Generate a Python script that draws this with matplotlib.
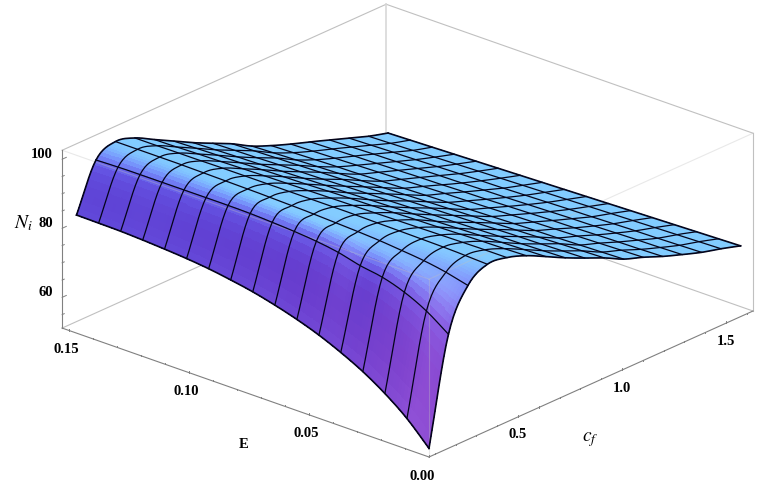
import numpy as np
import matplotlib
matplotlib.use('Agg')
import matplotlib.pyplot as plt
from mpl_toolkits.mplot3d import proj3d

# mesh positions
E_vals = [0.0, 0.0092, 0.0184, 0.0276, 0.0368, 0.0459, 0.0551, 0.0643, 0.0735,
          0.0827, 0.0919, 0.1011, 0.1103, 0.1194, 0.1286, 0.1378, 0.147]
cf_vals = [0.072, 0.1656, 0.2593, 0.3529, 0.4465, 0.5401, 0.6338, 0.7274, 0.821,
           0.9146, 1.0083, 1.1019, 1.1955, 1.2891, 1.3828, 1.4764, 1.57]

# N_i, one row per cf value, columns follow E_vals
Ni = [
    [53.6, 60.0, 65.0, 69.1, 72.4, 75.2, 77.5, 79.4, 81.0, 82.2, 83.2, 83.9, 84.4, 84.8, 85.1, 85.2, 85.3],
    [84.1, 88.6, 91.8, 93.9, 95.0, 96.6, 97.6, 98.2, 98.6, 98.9, 99.0, 99.0, 99.0, 99.0, 99.0, 98.9, 98.7],
    [95.7, 97.3, 98.4, 99.1, 99.7, 100.1, 100.4, 100.7, 100.9, 101.1, 101.2, 101.3, 101.4, 101.5, 101.5, 101.5, 101.5],
    [99.3, 99.6, 99.8, 99.9, 100.0, 100.1, 100.2, 100.2, 100.2, 100.2, 100.2, 100.2, 100.2, 100.1, 100.1, 100.0, 100.0],
    [98.7, 98.7, 98.6, 98.5, 98.4, 98.3, 98.2, 98.1, 98.0, 97.9, 97.8, 97.7, 97.5, 97.4, 97.3, 97.1, 97.0],
    [96.7, 96.5, 96.4, 96.2, 96.0, 95.9, 95.7, 95.5, 95.4, 95.2, 95.0, 94.9, 94.7, 94.5, 94.4, 94.2, 94.0],
    [93.9, 93.7, 93.5, 93.3, 93.1, 92.9, 92.8, 92.6, 92.4, 92.2, 92.1, 91.9, 91.7, 91.5, 91.4, 91.2, 91.0],
    [91.0, 90.8, 90.6, 90.5, 90.3, 90.1, 90.0, 89.8, 89.6, 89.5, 89.3, 89.1, 89.0, 88.8, 88.6, 88.5, 88.3],
    [88.4, 88.2, 88.0, 87.9, 87.7, 87.5, 87.3, 87.2, 87.0, 86.8, 86.6, 86.5, 86.3, 86.1, 86.0, 85.8, 85.6],
    [85.9, 85.7, 85.5, 85.2, 85.0, 84.8, 84.6, 84.4, 84.2, 84.0, 83.8, 83.6, 83.4, 83.2, 82.9, 82.7, 82.4],
    [83.0, 82.8, 82.6, 82.4, 82.3, 82.1, 81.9, 81.7, 81.5, 81.3, 81.1, 80.9, 80.7, 80.6, 80.4, 80.2, 80.0],
    [81.0, 80.8, 80.6, 80.4, 80.2, 80.0, 79.8, 79.6, 79.4, 79.3, 79.1, 78.9, 78.7, 78.5, 78.3, 78.1, 77.9],
    [78.7, 78.5, 78.4, 78.2, 78.0, 77.9, 77.7, 77.5, 77.3, 77.2, 77.0, 76.9, 76.7, 76.5, 76.4, 76.2, 76.0],
    [76.7, 76.5, 76.4, 76.2, 76.0, 75.9, 75.7, 75.5, 75.3, 75.2, 75.0, 74.9, 74.7, 74.5, 74.4, 74.2, 74.0],
    [74.8, 74.6, 74.4, 74.3, 74.1, 73.9, 73.8, 73.6, 73.4, 73.2, 73.1, 72.9, 72.7, 72.5, 72.4, 72.2, 72.0],
    [73.3, 73.1, 72.9, 72.7, 72.5, 72.3, 72.1, 71.9, 71.7, 71.5, 71.3, 71.1, 70.9, 70.7, 70.4, 70.2, 70.0],
    [71.6, 71.4, 71.2, 71.0, 70.8, 70.6, 70.4, 70.2, 70.0, 69.8, 69.6, 69.4, 69.2, 69.0, 68.8, 68.6, 68.4],
]

E_ticks = [0.0, 0.05, 0.10, 0.15]
E_labels = ['0.00', '0.05', '0.10', '0.15']
cf_ticks = [0.5, 1.0, 1.5]
cf_labels = ['0.5', '1.0', '1.5']
z_ticks = [60, 80, 100]
z_labels = ['60', '80', '100']

cf_lo, cf_hi = 0.072, 1.63
E_lo, E_hi = 0.0, 0.153
z_lo, z_hi = 51.1, 102.6

W, H = 757, 482
plt.rcParams['mathtext.fontset'] = 'stix'
fig = plt.figure(figsize=(W / 100, H / 100), dpi=100)
ax = fig.add_axes([0, 0, 1, 1], projection='3d', proj_type='ortho', computed_zorder=False)
ax.view_init(elev=23.45, azim=221.45)
ax.set_box_aspect((1, 1, 0.396))
ax.set_xlim(cf_lo, cf_hi)
ax.set_ylim(E_lo, E_hi)
ax.set_zlim(z_lo, z_hi)
ax.set_axis_off()
ax.patch.set_alpha(0)


def project(x, y, z):
    px, py, _ = proj3d.proj_transform(x, y, z, ax.get_proj())
    return px, py


# place the axes so that the box corners land where they are in the picture
front = project(cf_lo, E_lo, z_lo)
right = project(cf_hi, E_lo, z_lo)
fig.canvas.draw()
a = ax.transData.transform(front)
b = ax.transData.transform(right)
scale = (753 - 429) / (b[0] - a[0])
ax.set_position([0, 0, scale, scale])
fig.canvas.draw()
a = ax.transData.transform(front)
ax.set_position([(429 - a[0]) / W, ((H - 457) - a[1]) / H, scale, scale])


def smooth(vals, n):
    # Catmull-Rom through the read values, so the surface is drawn round like the original
    vals = np.asarray(vals, dtype=float)
    m = np.gradient(vals)
    out = []
    for k in range(len(vals) - 1):
        s = np.arange(n) / n
        h00 = 2 * s**3 - 3 * s**2 + 1
        h10 = s**3 - 2 * s**2 + s
        h01 = -2 * s**3 + 3 * s**2
        h11 = s**3 - s**2
        out.append(h00 * vals[k] + h10 * m[k] + h01 * vals[k + 1] + h11 * m[k + 1])
    out.append(vals[-1:])
    return np.concatenate(out)


n = 8
cf = np.array(cf_vals)
E = np.array(E_vals)
Z = np.array(Ni)
tmp = np.array([smooth(col, n) for col in Z.T]).T
Zf = np.array([smooth(row, n) for row in tmp])
cf_f = np.interp(np.linspace(0, 16, 16 * n + 1), np.arange(17), cf)
E_f = np.interp(np.linspace(0, 16, 16 * n + 1), np.arange(17), E)
CF, EE = np.meshgrid(cf_f, E_f, indexing='ij')

# colour from the slope: flat parts light blue, steep parts purple
gc = np.gradient(Zf, axis=0) * n
ge = np.clip(np.gradient(Zf, axis=1) * n, 0, 6)
t = np.clip(gc / (18 + 3 * ge), 0, 1)
stops_t = [0, 0.08, 0.3, 0.6, 1]
stops_r = [130, 127, 118, 100, 92]
stops_g = [204, 190, 145, 85, 58]
stops_b = [255, 255, 252, 228, 206]
R = np.interp(t, stops_t, stops_r) + 8 * ge
G = np.interp(t, stops_t, stops_g) + 2 * ge
B = np.interp(t, stops_t, stops_b)
RGB = np.clip(np.dstack([R, G, B]) / 255, 0, 1)
cols = (RGB[:-1, :-1] + RGB[1:, 1:] + RGB[:-1, 1:] + RGB[1:, :-1]) / 4

gray = '#c0c0c0'


def edge(p, q, color=gray, lw=0.8, zorder=1, alpha=1):
    ax.plot([p[0], q[0]], [p[1], q[1]], [p[2], q[2]], color=color, lw=lw, zorder=zorder,
            alpha=alpha, clip_on=False)


# box edges behind the surface
edge((cf_lo, E_hi, z_hi), (cf_hi, E_hi, z_hi))
edge((cf_hi, E_lo, z_hi), (cf_hi, E_hi, z_hi))
edge((cf_hi, E_hi, z_lo), (cf_hi, E_hi, z_hi), color='#d8d8d8', lw=1.2)
edge((cf_lo, E_hi, z_lo), (cf_hi, E_hi, z_lo))
edge((cf_hi, E_lo, z_lo), (cf_hi, E_hi, z_lo))
edge((cf_hi, E_lo, z_lo), (cf_hi, E_lo, z_hi))

ax.plot_surface(CF, EE, Zf, facecolors=cols, rstride=1, cstride=1, shade=False,
                linewidth=0, antialiased=False, zorder=2)

# box edges over the surface, faint
edge((cf_lo, E_lo, z_hi), (cf_lo, E_hi, z_hi), zorder=3, alpha=0.35)
edge((cf_lo, E_lo, z_hi), (cf_hi, E_lo, z_hi), zorder=3, alpha=0.35)
edge((cf_lo, E_lo, z_lo), (cf_lo, E_lo, z_hi), zorder=3, alpha=0.35)

# mesh
for i in range(len(cf_vals)):
    lw = 1.2 if i == 0 or i == len(cf_vals) - 1 else 0.9
    ax.plot([cf[i]] * len(E_f), E_f, Zf[i * n], color='#04041a', lw=lw, zorder=4)
for j in range(len(E_vals)):
    lw = 1.2 if j == 0 or j == len(E_vals) - 1 else 0.9
    ax.plot(cf_f, [E[j]] * len(cf_f), Zf[:, j * n], color='#04041a', lw=lw, zorder=4)

# axes with ticks
axc = '#808080'
edge((cf_lo, E_lo, z_lo), (cf_lo, E_hi, z_lo), color=axc, zorder=5)
edge((cf_lo, E_lo, z_lo), (cf_hi, E_lo, z_lo), color=axc, zorder=5)
edge((cf_lo, E_hi, z_lo), (cf_lo, E_hi, z_hi), color=axc, zorder=5)

for e in np.arange(0, 0.1501, 0.01):
    ln = 0.5 if round(e * 100) % 5 == 0 else 0.3
    edge((cf_lo, e, z_lo), (cf_lo, e, z_lo + ln), color=axc, lw=0.7, zorder=5)
for c in np.arange(0.1, 1.61, 0.1):
    ln = 0.5 if round(c * 10) % 5 == 0 else 0.3
    edge((c, E_lo, z_lo), (c, E_lo, z_lo + ln), color=axc, lw=0.7, zorder=5)
for z in np.arange(55, 101, 5):
    ln = 0.02 if z % 20 == 0 else 0.01
    edge((cf_lo, E_hi, z), (cf_lo + ln, E_hi, z), color=axc, lw=0.7, zorder=5)


def label(txt, xyz, dx, dy, **kw):
    ax.annotate(txt, xy=project(*xyz), xytext=(dx, dy), textcoords='offset pixels',
                ha=kw.pop('ha', 'center'), va='center', annotation_clip=False, **kw)


tick_font = dict(family='Liberation Serif', fontweight='bold', fontsize=10.5, color='black')
for val, txt in zip(E_ticks, E_labels):
    label(txt, (cf_lo, val, z_lo), -3 if val > 0 else -7, -19, **tick_font)
for val, txt in zip(cf_ticks, cf_labels):
    label(txt, (val, E_lo, z_lo), 0, -18, **tick_font)
for val, txt in zip(z_ticks, z_labels):
    label(txt, (cf_lo, E_hi, val), -9, 5, ha='right', **tick_font)

fig.text(244 / W, 1 - 445 / H, 'E', ha='center', va='center', **tick_font)
fig.text(590 / W, 1 - 440 / H, r'$c_f$', ha='center', va='center', fontsize=14)
fig.text(23 / W, 1 - 223 / H, r'$N_i$', ha='center', va='center', fontsize=14)

fig.savefig('out.png', dpi=100)
